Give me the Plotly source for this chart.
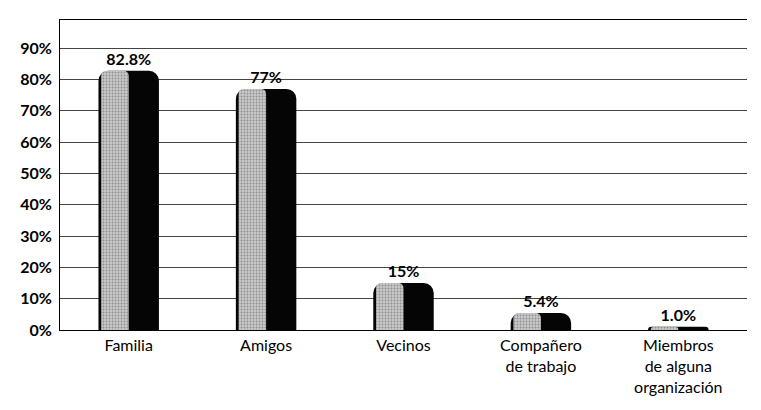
import plotly.graph_objects as go

categories = ["Familia", "Amigos", "Vecinos", "Compañero<br>de trabajo", "Miembros<br>de alguna<br>organización"]
values = [0.828, 0.77, 0.15, 0.054, 0.010]
value_labels = ["82.8%", "77%", "15%", "5.4%", "1.0%"]
tick_vals = [0, 0.1, 0.2, 0.3, 0.4, 0.5, 0.6, 0.7, 0.8, 0.9]
tick_text = ["0%", "10%", "20%", "30%", "40%", "50%", "60%", "70%", "80%", "90%"]

fig = go.Figure()
fig.add_trace(go.Bar(
    x=categories, y=values, width=0.44, offset=-0.22,
    marker=dict(color="#050505", line=dict(width=0), cornerradius=10),
    text=value_labels, textposition="outside",
    textfont=dict(family="Lato", size=16, color="black", weight="bold"),
    cliponaxis=False, hoverinfo="skip",
))
fig.add_trace(go.Bar(
    x=categories, y=values, width=0.2, offset=-0.2,
    marker=dict(color="#c4c4c4", line=dict(width=0), cornerradius=5,
                pattern=dict(shape=".", fgcolor="#555555", bgcolor="#c8c8c8", size=3, solidity=0.3)),
    hoverinfo="skip",
))

fig.update_layout(
    width=745, height=394,
    margin=dict(l=52, r=6, t=12, b=72),
    paper_bgcolor="white", plot_bgcolor="white",
    barmode="overlay", showlegend=False,
    font=dict(family="Lato", color="black"),
)
fig.update_xaxes(
    automargin=False,
    showline=True, linecolor="black", linewidth=1, mirror=True,
    ticks="outside", ticklen=1, tickcolor="rgba(0,0,0,0)",
    tickfont=dict(family="Lato", size=16, color="black"),
    showgrid=False,
)
fig.update_yaxes(
    automargin=False,
    range=[0, 0.99], tickvals=tick_vals, ticktext=tick_text,
    showline=True, linecolor="black", linewidth=1,
    showgrid=True, gridcolor="#444444", gridwidth=1,
    tickfont=dict(family="Lato", size=16, color="black", weight="bold"),
    ticks="outside", ticklen=4, tickcolor="rgba(0,0,0,0)",
    zeroline=False,
)

fig.write_html("out.html")
